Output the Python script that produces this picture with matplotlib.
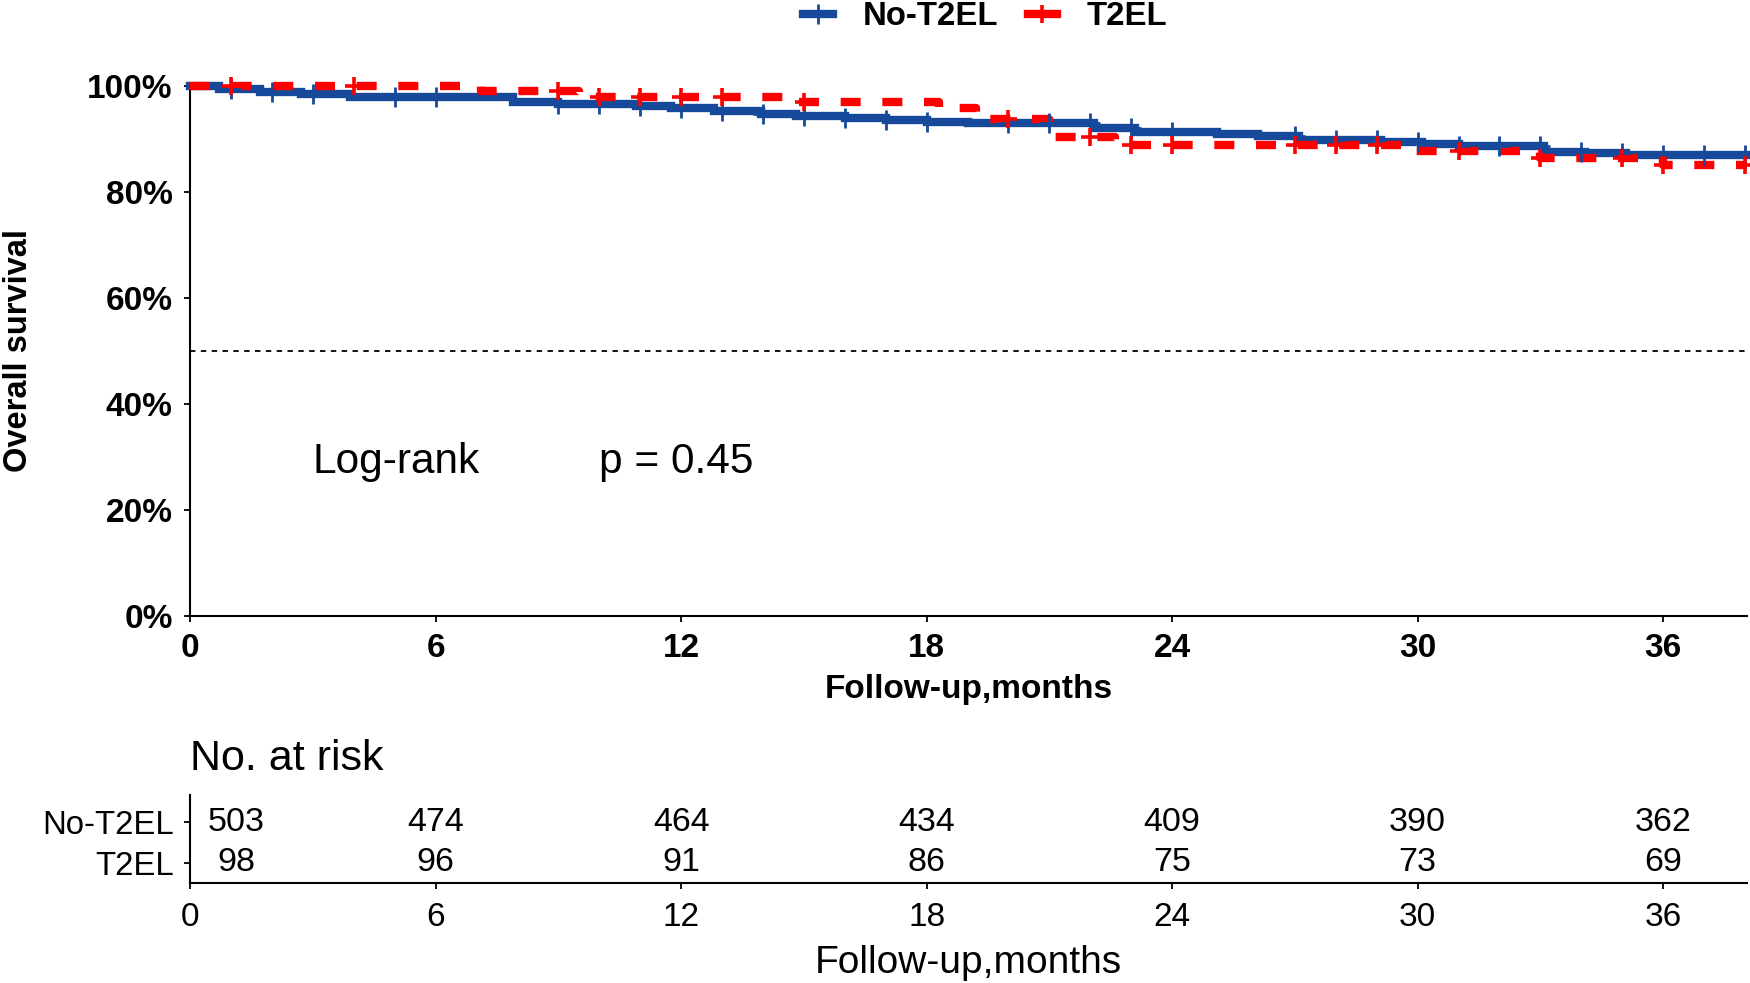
import numpy as np
import matplotlib
matplotlib.use('Agg')
import matplotlib.pyplot as plt
from matplotlib.lines import Line2D

plt.rcParams['font.family'] = ['Liberation Sans', 'DejaVu Sans']

# Kaplan-Meier steps (months, survival)
blue_t = [0, 0.7, 1.7, 2.7, 3.9, 7.9, 9.0, 10.9, 11.75, 12.8, 13.95, 14.8, 16.0,
          17.0, 18.0, 19.0, 22.1, 23.1, 25.1, 26.1, 27.1, 29.1, 30.1, 31.0,
          33.1, 34.1, 35.1]
blue_s = [1.0, 0.994, 0.988, 0.984, 0.980, 0.970, 0.967, 0.962, 0.958, 0.953,
          0.947, 0.943, 0.939, 0.936, 0.933, 0.930, 0.920, 0.914, 0.909, 0.906,
          0.898, 0.894, 0.890, 0.887, 0.876, 0.874, 0.870]
red_t = [0, 7.1, 9.5, 14.8, 18.3, 19.2, 21.0, 22.6, 29.7, 33.0, 36.0]
red_s = [1.0, 0.990, 0.980, 0.969, 0.958, 0.937, 0.904, 0.889, 0.878, 0.864, 0.851]
last_follow_up = 38.05

# censoring marks (months)
blue_cens = [1, 2, 3, 5, 6, 9, 10, 11, 12, 13, 14, 15, 16, 17, 18, 20, 21, 22,
             23, 24, 27, 28, 29, 30, 31, 32, 33, 34, 35, 36, 37, 38]
red_cens = [1, 4, 9, 10, 11, 12, 13, 15, 20, 22, 23, 24, 27, 28, 29, 31, 33,
            35, 36, 38]

# numbers at risk
risk_times = [0, 6, 12, 18, 24, 30, 36]
risk_no_t2el = [503, 474, 464, 434, 409, 390, 362]
risk_t2el = [98, 96, 91, 86, 75, 73, 69]

groups = ['No-T2EL', 'T2EL']
blue = '#16499A'
red = '#FF0000'


def surv_at(times, surv, t):
    idx = np.searchsorted(times, t, side='right') - 1
    return np.array(surv)[idx]


fig = plt.figure(figsize=(17.5, 9.83), dpi=100)
ax = fig.add_axes([0.1086, 0.3733, 0.8897, 0.5392])

# blue curve
bt = blue_t + [last_follow_up]
bs = blue_s + [blue_s[-1]]
ax.plot(bt, bs, drawstyle='steps-post', color=blue, lw=6, clip_on=False,
        solid_joinstyle='miter', zorder=3)
# red curve
rt = red_t + [last_follow_up]
rs = red_s + [red_s[-1]]
ax.plot(rt, rs, drawstyle='steps-post', color=red, lw=6, clip_on=False,
        linestyle=(0, (2.4, 2.6)), zorder=4)

ax.plot(blue_cens, surv_at(blue_t, blue_s, blue_cens), '+', color=blue,
        ms=14, mew=2.0, clip_on=False, zorder=5)
ax.plot(red_cens, surv_at(red_t, red_s, red_cens), '+', color=red,
        ms=13, mew=2.6, clip_on=False, zorder=5)

ax.axhline(0.5, color='black', lw=1.3, linestyle=(0, (3, 3)), zorder=2)

ax.text(3.0, 0.29, 'Log-rank', fontsize=30.5, va='center', ha='left')
ax.text(10.0, 0.29, 'p = 0.45', fontsize=30.5, va='center', ha='left')

ax.set_xlim(0, last_follow_up)
ax.set_ylim(0, 1)
ax.set_xticks(risk_times)
ax.set_yticks([0, 0.2, 0.4, 0.6, 0.8, 1.0])
ax.set_yticklabels(['0%', '20%', '40%', '60%', '80%', '100%'])
for s in ['top', 'right']:
    ax.spines[s].set_visible(False)
for s in ['left', 'bottom']:
    ax.spines[s].set_linewidth(1.5)
ax.tick_params(axis='both', length=4.5, width=1.3)
ax.tick_params(axis='x', labelsize=24, pad=8)
ax.tick_params(axis='y', labelsize=24, pad=8)
for lab in ax.get_xticklabels() + ax.get_yticklabels():
    lab.set_fontweight('bold')
ax.set_xlabel('Follow-up,months', fontsize=24, fontweight='bold', labelpad=7)
ax.set_ylabel('Overall survival', fontsize=23.5, fontweight='bold', labelpad=38)

handles = [Line2D([], [], color=blue, lw=6, marker='+', ms=14, mew=2.0),
           Line2D([], [], color=red, lw=6, marker='+', ms=13, mew=2.6)]
fig.legend(handles, groups, loc='center', bbox_to_anchor=(0.563, 0.983),
           ncol=2, frameon=False, handlelength=0.9, columnspacing=0.9,
           handletextpad=0.9, prop={'size': 23.7, 'weight': 'bold'})

# risk table
tab = fig.add_axes([0.1086, 0.1017, 0.8897, 0.0896])
tab.set_xlim(0, last_follow_up)
tab.set_ylim(0.5, 2.68)
for i, (t, a, b) in enumerate(zip(risk_times, risk_no_t2el, risk_t2el)):
    off = 33 if i == 0 else 0
    tab.annotate(str(a), (t, 2), xytext=(off, 0), textcoords='offset points',
                 ha='center', va='center', fontsize=24.5)
    tab.annotate(str(b), (t, 1), xytext=(off, 0), textcoords='offset points',
                 ha='center', va='center', fontsize=24.5)
tab.set_yticks([2, 1])
tab.set_yticklabels(groups)
tab.set_xticks(risk_times)
for s in ['top', 'right']:
    tab.spines[s].set_visible(False)
for s in ['left', 'bottom']:
    tab.spines[s].set_linewidth(1.5)
tab.tick_params(axis='both', length=4.5, width=1.3)
tab.tick_params(axis='y', labelsize=23.7, pad=7)
tab.tick_params(axis='x', labelsize=24, pad=9)
tab.set_xlabel('Follow-up,months', fontsize=28, labelpad=9)
tab.set_title('No. at risk', fontsize=31, loc='left', pad=18)

fig.savefig('out.png', dpi=100)
